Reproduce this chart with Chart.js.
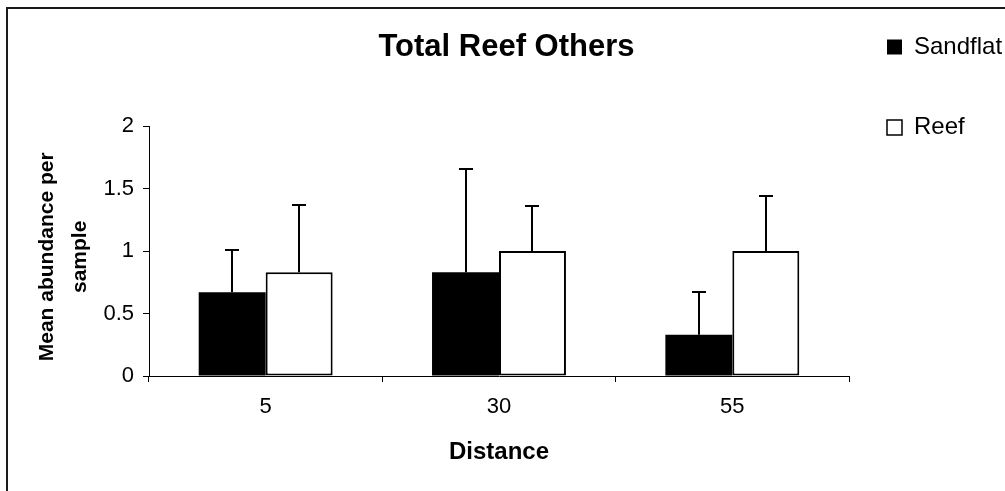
<!DOCTYPE html>
<html><head><meta charset="utf-8">
<script src="https://cdn.jsdelivr.net/npm/chart.js@4.4.1/dist/chart.umd.min.js"></script>
<style>html,body{margin:0;padding:0;background:#fff;overflow:hidden}canvas{display:block}</style>
</head><body>
<canvas id="c" width="1005" height="491"></canvas>
<script>
const categories = ['5', '30', '55'];
const seriesNames = ['Sandflat', 'Reef'];
const sandflatMeans = [0.67, 0.83, 0.33];
const sandflatErrors = [0.34, 0.83, 0.34];
const reefMeans = [0.83, 1.0, 1.0];
const reefErrors = [0.54, 0.36, 0.44];
const yTickLabels = ['0', '0.5', '1', '1.5', '2'];
const chartTitle = 'Total Reef Others';
const xTitle = 'Distance';
const yTitle = ['Mean abundance per  ', 'sample  '];
const errorSets = [sandflatErrors, reefErrors];
const FONT = "'Liberation Sans', Arial, sans-serif";

const frame = {
  id: 'frame',
  beforeDraw(chart) {
    const ctx = chart.ctx;
    ctx.save();
    ctx.fillStyle = '#fff';
    ctx.fillRect(0, 0, chart.width, chart.height);
    ctx.strokeStyle = '#1a1a1a';
    ctx.lineWidth = 2;
    ctx.beginPath();
    ctx.moveTo(7, chart.height + 10);
    ctx.lineTo(7, 8);
    ctx.lineTo(chart.width + 10, 8);
    ctx.stroke();
    ctx.restore();
  }
};

const errorBars = {
  id: 'errorBars',
  afterDatasetsDraw(chart) {
    const ctx = chart.ctx;
    const ys = chart.scales.y;
    ctx.save();
    ctx.strokeStyle = '#000';
    ctx.lineWidth = 2;
    chart.data.datasets.forEach((ds, di) => {
      const meta = chart.getDatasetMeta(di);
      const errs = errorSets[di];
      meta.data.forEach((bar, i) => {
        const base = ys.getPixelForValue(ds.data[i]);
        const top = Math.round(ys.getPixelForValue(ds.data[i] + errs[i]));
        const x = Math.round(bar.x);
        ctx.beginPath();
        ctx.moveTo(x, base);
        ctx.lineTo(x, top);
        ctx.moveTo(x - 7, top);
        ctx.lineTo(x + 7, top);
        ctx.stroke();
      });
    });
    ctx.restore();
  }
};

new Chart(document.getElementById('c'), {
  type: 'bar',
  data: {
    labels: categories,
    datasets: [
      { label: seriesNames[0], data: sandflatMeans, backgroundColor: '#000', borderColor: '#000', borderWidth: 0, borderSkipped: false },
      { label: seriesNames[1], data: reefMeans, backgroundColor: '#fff', borderColor: '#000', borderWidth: 2, borderSkipped: false }
    ]
  },
  options: {
    responsive: false,
    animation: false,
    devicePixelRatio: 1,
    categoryPercentage: 0.574,
    barPercentage: 1.0,
    layout: { padding: { left: 8, top: -3, right: 0, bottom: 0 } },
    plugins: {
      tooltip: { enabled: false },
      title: {
        display: true, text: chartTitle, color: '#000',
        font: { family: FONT, size: 31, weight: 'bold', lineHeight: 1.2 },
        padding: { top: 31.4, bottom: 60.4 }
      },
      legend: {
        display: true, position: 'right', align: 'start', maxWidth: 156,
        labels: {
          color: '#000', boxWidth: 15, boxHeight: 15, padding: 38,
          font: { family: FONT, size: 24, lineHeight: 42.5 / 24 },
          generateLabels(chart) {
            const items = Chart.defaults.plugins.legend.labels.generateLabels(chart);
            items.forEach(it => { it.text = [it.text]; if (it.lineWidth) it.lineWidth = 1.5; });
            return items;
          }
        }
      }
    },
    scales: {
      x: {
        type: 'category', offset: true,
        grid: { display: true, drawOnChartArea: false, drawTicks: true, tickLength: 6, color: '#000', lineWidth: 1, offset: true },
        border: { display: true, color: '#000', width: 1 },
        ticks: { color: '#000', font: { family: FONT, size: 22 }, padding: 12, maxRotation: 0 },
        title: { display: true, text: xTitle, color: '#000', font: { family: FONT, size: 24, weight: 'bold', lineHeight: 1.2 }, padding: { top: 0, bottom: 24 } },
        afterFit(s) { s.height = 115; }
      },
      y: {
        min: 0, max: 2,
        grid: { display: true, drawOnChartArea: false, drawTicks: true, tickLength: 6, color: '#000', lineWidth: 1 },
        border: { display: true, color: '#000', width: 1 },
        ticks: { stepSize: 0.5, color: '#000', font: { family: FONT, size: 22 }, padding: 9, callback: (v, i) => yTickLabels[i] },
        title: { display: true, text: yTitle, color: '#000', font: { family: FONT, size: 21, weight: 'bold', lineHeight: 33 / 21 }, padding: { top: 22.5, bottom: 0 } },
        afterFit(s) { s.width = 141; }
      }
    }
  },
  plugins: [frame, errorBars]
});
</script>
</body></html>
